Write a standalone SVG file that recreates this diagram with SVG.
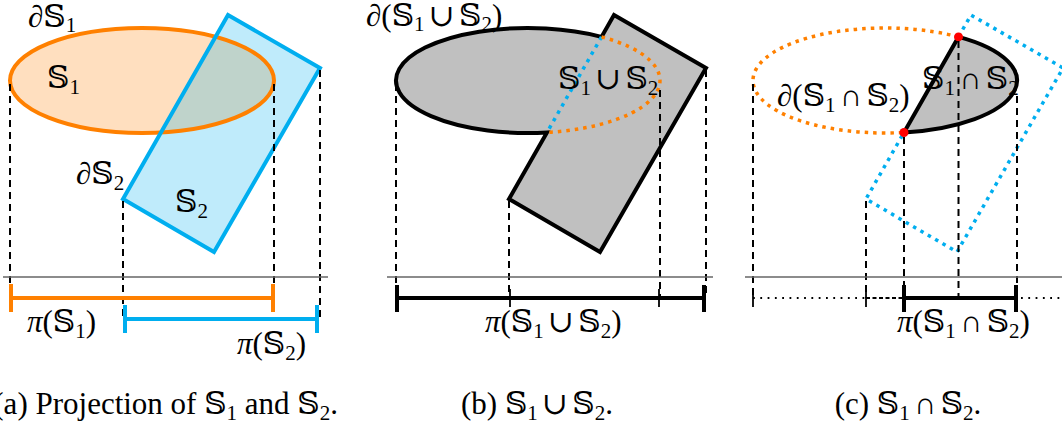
<svg xmlns="http://www.w3.org/2000/svg" width="1062" height="432" viewBox="0 0 1062 432">
<style>
text{font-family:'Liberation Serif','DejaVu Serif','DejaVu Sans',serif;font-size:31px;fill:#000}
.sub{font-size:21px}
.sp{font-size:17px}
.dash{stroke:#000;stroke-width:2;stroke-dasharray:7 5;fill:none}
.axis{stroke:#666;stroke-width:1.4;fill:none}
.org{stroke:#FF8000;stroke-width:4;fill:none}
.blu{stroke:#00AEEF;stroke-width:4;fill:none}
.orgdot{stroke:#FF8000;stroke-width:3.5;stroke-dasharray:3.5 5;fill:none}
.bludot{stroke:#00AEEF;stroke-width:3.5;stroke-dasharray:3.5 5;fill:none}
.gray{fill:#C0C0C0;stroke:#000;stroke-width:4;stroke-linejoin:miter}
.thick{stroke:#000;stroke-width:4;fill:none}
.thin{stroke:#000;stroke-width:1.8;fill:none}
.dot{stroke:#000;stroke-width:1.8;stroke-dasharray:1.8 5.5;fill:none}
</style>
<!-- Panel a -->
<g id="panel-a">
  <ellipse cx="142" cy="80.5" rx="132" ry="52.5" fill="#FF8000" fill-opacity="0.25"/>
  <polygon points="228,15 320,68 214,252 123,199" fill="#00AEEF" fill-opacity="0.25"/>
  <ellipse class="org" cx="142" cy="80.5" rx="132" ry="52.5"/>
  <polygon class="blu" points="228,15 320,68 214,252 123,199"/>
  <g id="a-dashes">
    <line class="dash" x1="10" y1="84" x2="10" y2="298"/>
    <line class="dash" x1="123" y1="201" x2="123" y2="319"/>
    <line class="dash" x1="274" y1="84" x2="274" y2="298"/>
    <line class="dash" x1="320" y1="70" x2="320" y2="319"/>
  </g>
  <line class="axis" x1="3" y1="277" x2="328" y2="277"/>
  <g id="a-bars">
    <line class="org" x1="11" y1="298" x2="273" y2="298"/>
    <line class="org" x1="11" y1="284" x2="11" y2="312"/>
    <line class="org" x1="273" y1="284" x2="273" y2="312"/>
    <line class="blu" x1="125" y1="319" x2="317" y2="319"/>
    <line class="blu" x1="125" y1="305" x2="125" y2="333"/>
    <line class="blu" x1="317" y1="305" x2="317" y2="333"/>
  </g>
  <text x="28" y="27">∂𝕊<tspan class="sub" dy="5">1</tspan></text>
  <text x="47" y="88">𝕊<tspan class="sub" dy="6">1</tspan></text>
  <text x="76" y="184">∂𝕊<tspan class="sub" dy="6">2</tspan></text>
  <text x="175" y="212">𝕊<tspan class="sub" dy="6">2</tspan></text>
  <text x="27" y="332"><tspan font-style="italic">π</tspan>(𝕊<tspan class="sub" dy="6">1</tspan><tspan dy="-6">)</tspan></text>
  <text x="237" y="354"><tspan font-style="italic">π</tspan>(𝕊<tspan class="sub" dy="6">2</tspan><tspan dy="-6">)</tspan></text>
  <text x="338" y="414" text-anchor="end">(a) Projection of 𝕊<tspan class="sub" dy="6">1</tspan><tspan dy="-6"> and 𝕊</tspan><tspan class="sub" dy="6">2</tspan><tspan dy="-6">.</tspan></text>
</g>
<!-- Panel b -->
<g id="panel-b">
  <g transform="translate(386,0)">
    <path class="gray" d="M215.51,36.89 A132,52.5 0 1 0 160.97,132.45 L123,199 L214,252 L320,68 L228,15 Z"/>
    <path class="bludot" d="M215.51,36.89 L160.97,132.45"/>
    <path class="orgdot" d="M215.51,36.89 A132,52.5 0 0 1 160.97,132.45"/>
    <line class="dash" x1="10" y1="84" x2="10" y2="298"/>
    <line class="dash" x1="123" y1="201" x2="123" y2="298"/>
    <line class="dash" x1="274" y1="90" x2="274" y2="298"/>
    <line class="dash" x1="320" y1="70" x2="320" y2="298"/>
    <line class="axis" x1="1" y1="277" x2="327" y2="277"/>
    <line class="thick" x1="11" y1="298" x2="318" y2="298"/>
    <line class="thick" x1="11" y1="285" x2="11" y2="312"/>
    <line class="thick" x1="318" y1="285" x2="318" y2="312"/>
    <line class="thin" x1="124" y1="289" x2="124" y2="307"/>
    <line class="thin" x1="273" y1="289" x2="273" y2="307"/>
  </g>
  <text x="366" y="26">∂(𝕊<tspan class="sub" dy="5">1</tspan><tspan dy="-5" class="sp"> </tspan>∪<tspan class="sp"> </tspan>𝕊<tspan class="sub" dy="5">2</tspan><tspan dy="-5">)</tspan></text>
  <text x="558" y="89">𝕊<tspan class="sub" dy="6">1</tspan><tspan dy="-6" class="sp"> </tspan>∪<tspan class="sp"> </tspan>𝕊<tspan class="sub" dy="6">2</tspan></text>
  <text x="485" y="332"><tspan font-style="italic">π</tspan>(𝕊<tspan class="sub" dy="6">1</tspan><tspan dy="-6" class="sp"> </tspan>∪<tspan class="sp"> </tspan>𝕊<tspan class="sub" dy="6">2</tspan><tspan dy="-6">)</tspan></text>
  <text x="537" y="414" text-anchor="middle">(b) 𝕊<tspan class="sub" dy="6">1</tspan><tspan dy="-6" class="sp"> </tspan>∪<tspan class="sp"> </tspan>𝕊<tspan class="sub" dy="6">2</tspan><tspan dy="-6">.</tspan></text>
</g>
<!-- Panel c -->
<g id="panel-c">
  <g transform="translate(743,0)">
    <path class="orgdot" d="M215.51,36.89 A132,52.5 0 1 0 160.97,132.45"/>
    <path class="bludot" d="M215.51,36.89 L228,15 L320,68 L214,252 L123,199 L160.97,132.45"/>
    <path class="gray" d="M215.51,36.89 A132,52.5 0 0 1 160.97,132.45 Z"/>
    <circle cx="215.51" cy="36.89" r="4.5" fill="#FF0000"/>
    <circle cx="160.97" cy="132.45" r="4.5" fill="#FF0000"/>
    <line class="dash" x1="10" y1="84" x2="10" y2="298"/>
    <line class="dash" x1="123" y1="201" x2="123" y2="298"/>
    <line class="dash" x1="161" y1="137" x2="161" y2="298"/>
    <line class="dash" x1="215.5" y1="41" x2="215.5" y2="298"/>
    <line class="dash" x1="274" y1="96" x2="274" y2="298"/>
    <line class="dash" x1="320" y1="70" x2="320" y2="298"/>
    <line class="axis" x1="2" y1="277" x2="330" y2="277"/>
    <line class="dot" x1="10" y1="298" x2="123" y2="298"/>
    <line stroke="#000" stroke-width="1.8" stroke-dasharray="4 2.5" x1="123" y1="298" x2="161" y2="298"/>
    <line class="thick" x1="161" y1="298" x2="273" y2="298"/>
    <line class="dot" x1="278" y1="298" x2="330" y2="298"/>
    <line class="thin" x1="10" y1="289" x2="10" y2="307"/>
    <line class="thin" x1="123" y1="289" x2="123" y2="307"/>
    <line class="thick" x1="161" y1="285" x2="161" y2="312"/>
    <line class="thick" x1="273" y1="285" x2="273" y2="312"/>
  </g>
  <text x="777" y="106">∂(𝕊<tspan class="sub" dy="6">1</tspan><tspan dy="-6" class="sp"> </tspan>∩<tspan class="sp"> </tspan>𝕊<tspan class="sub" dy="6">2</tspan><tspan dy="-6">)</tspan></text>
  <text x="922" y="89">𝕊<tspan class="sub" dy="6">1</tspan><tspan dy="-6" class="sp"> </tspan>∩<tspan class="sp"> </tspan>𝕊<tspan class="sub" dy="6">2</tspan></text>
  <text x="897" y="332"><tspan font-style="italic">π</tspan>(𝕊<tspan class="sub" dy="6">1</tspan><tspan dy="-6" class="sp"> </tspan>∩<tspan class="sp"> </tspan>𝕊<tspan class="sub" dy="6">2</tspan><tspan dy="-6">)</tspan></text>
  <text x="908" y="414" text-anchor="middle">(c) 𝕊<tspan class="sub" dy="6">1</tspan><tspan dy="-6" class="sp"> </tspan>∩<tspan class="sp"> </tspan>𝕊<tspan class="sub" dy="6">2</tspan><tspan dy="-6">.</tspan></text>
</g>
</svg>
